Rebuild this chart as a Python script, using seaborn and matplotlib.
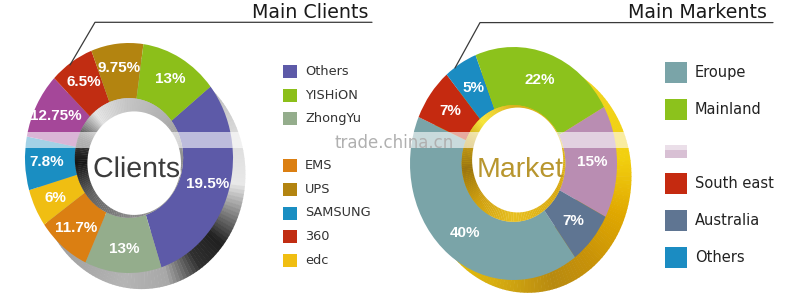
import numpy as np
import matplotlib
matplotlib.use("Agg")
import matplotlib.pyplot as plt
import seaborn as sns
from matplotlib.patches import Wedge, Ellipse, Rectangle
import matplotlib.patheffects as pe
from matplotlib.colors import to_rgb

sns.set_theme(style="white")
plt.rcParams['font.family'] = ['DejaVu Sans']

# ---------------- data ----------------
# Main Clients: slices listed clockwise, starting with "Others"
client_categories = ["Others", "ZhongYu", "EMS", "edc", "SAMSUNG", "(hidden)", "360", "UPS", "YISHiON"]
client_shares = [30.6, 11.9, 8.3, 5.3, 7.5, 9.2, 6.9, 8.1, 12.1]          # drawn slice sizes
client_labels = ["19.5%", "13%", "11.7%", "6%", "7.8%", "12.75%", "6.5%", "9.75%", "13%"]
client_colors = ["#5d5aa8", "#94ad8c", "#db7f12", "#f0be12", "#1a8ec2",
                 "#a54799", "#c12d12", "#b38410", "#8cbf1a"]
client_legend = ["Others", "YISHiON", "ZhongYu", None, "EMS", "UPS", "SAMSUNG", "360", "edc"]

# Main Markents: slices listed clockwise, starting with "Eroupe"
market_categories = ["Eroupe", "South east", "Others", "Mainland", "(hidden)", "Australia"]
market_values = [40, 7, 5, 22, 15, 7]
market_labels = ["40%", "7%", "5%", "22%", "15%", "7%"]
market_colors = ["#7aa4a8", "#c52a10", "#1b8cc2", "#8cc21c", "#b98db2", "#5f7592"]
market_legend = ["Eroupe", "Mainland", "(hidden)", "South east", "Australia", "Others"]

W, H = 789, 301
fig = plt.figure(figsize=(W / 100, H / 100), dpi=100)


def ring_gradient(ax, center, r_out, r_in, knots, colors, n=180, z=1):
    rgb = np.array([to_rgb(c) for c in colors])
    for i in range(n):
        a, b = i * 360 / n, (i + 1) * 360 / n
        m = (a + b) / 2
        c = [np.interp(m, knots, rgb[:, k]) for k in range(3)]
        ax.add_patch(Wedge(center, r_out, 90 - b - 0.3, 90 - a, width=r_out - r_in,
                           facecolor=c, edgecolor='none', lw=0, zorder=z))


def make_axes(cx, cy, rx, ry):
    yb = H - cy
    return fig.add_axes([(cx - 1.3 * rx) / W, (yb - 1.3 * ry) / H, 2.6 * rx / W, 2.6 * ry / H])


label_font = dict(color='white', fontsize=11, fontweight='bold', family='Liberation Sans')

# ---------------- left donut ----------------
axL = make_axes(129, 158, 104, 115)
ring_gradient(axL, (0.12, -0.14), 1.0, 0.5,
              [0, 40, 70, 95, 112, 128, 145, 165, 190, 230, 300, 360],
              ["#c0c0c0", "#b8b8b8", "#dcdcdc", "#e8e8e8", "#808080", "#202020",
               "#303030", "#a8a8a8", "#b4b4b4", "#a0a0a0", "#b0b0b0", "#c0c0c0"], z=1)
wL, tL = axL.pie(client_shares, colors=client_colors, startangle=38.4, counterclock=False,
                 radius=1.0, labels=client_labels, labeldistance=0.79,
                 wedgeprops=dict(width=0.48, linewidth=0, zorder=3),
                 textprops=label_font)
for t in tL:
    t.set_ha('center'); t.set_va('center'); t.set_zorder(6)
ring_gradient(axL, (0, 0), 0.521, 0.0,
              [0, 45, 90, 180, 230, 265, 290, 320, 345, 360],
              ["#c4c4c4", "#b0b0b0", "#909090", "#8a8a8a", "#606060", "#151515",
               "#404040", "#e6e6e6", "#d0d0d0", "#c4c4c4"], z=4)
axL.add_patch(Ellipse((0.05, -0.045), 0.9, 0.9, facecolor='white', edgecolor='none', zorder=5))
axL.set_xlim(-1.3, 1.3); axL.set_ylim(-1.3, 1.3); axL.set_aspect('auto'); axL.axis('off')

# ---------------- right donut ----------------
axR = make_axes(513.5, 163.5, 103.5, 116.5)
ring_gradient(axR, (0.14, -0.11), 1.0, 0.5,
              [0, 40, 80, 110, 140, 165, 200, 240, 300, 360],
              ["#e8c800", "#f0d41e", "#f2d010", "#e0a800", "#c89208", "#b88a10",
               "#d8ae10", "#e8c400", "#e8c800", "#e8c800"], z=1)
wR, tR = axR.pie(market_values, colors=market_colors, startangle=-53.5, counterclock=False,
                 radius=1.0, labels=market_labels, labeldistance=0.76,
                 wedgeprops=dict(width=0.5, linewidth=0, zorder=3),
                 textprops=label_font)
for t in tR:
    t.set_ha('center'); t.set_va('center'); t.set_zorder(6)
ring_gradient(axR, (0, 0), 0.501, 0.0,
              [0, 60, 120, 180, 225, 265, 295, 320, 345, 360],
              ["#d8b020", "#e0b818", "#d8a810", "#e8c020", "#d0a010", "#9a7410",
               "#c8a018", "#f8e840", "#e8c830", "#d8b020"], z=4)
axR.add_patch(Ellipse((0.04, 0.03), 0.88, 0.9, facecolor='white', edgecolor='none', zorder=5))
axR.set_xlim(-1.3, 1.3); axR.set_ylim(-1.3, 1.3); axR.set_aspect('auto'); axR.axis('off')

# ---------------- overlay (titles, legends, watermark) ----------------
ov = fig.add_axes([0, 0, 1, 1])
ov.set_xlim(0, W); ov.set_ylim(H, 0); ov.axis('off'); ov.set_facecolor('none')

ov.text(252, 18.3, "Main Clients", ha='left', va='baseline', fontsize=13.7, color='#1a1a1a')
ov.plot([70, 95, 372], [65, 22.3, 22.3], color='#3a3a3a', lw=0.9)
ov.text(628, 17.8, "Main Markents", ha='left', va='baseline', fontsize=13.7, color='#1a1a1a')
ov.plot([455, 480, 773], [68, 22.6, 22.6], color='#3a3a3a', lw=0.9)

ov.text(136.5, 177, "Clients", ha='center', va='baseline', fontsize=20.5,
        family='Liberation Sans', color='#3c3c3c',
        path_effects=[pe.withStroke(linewidth=2.5, foreground='white')], zorder=5)
ov.text(520.5, 177, "Market", ha='center', va='baseline', fontsize=20.5,
        family='Liberation Sans', color='#b8962e', zorder=5)

cmapL = dict(zip(client_categories, client_colors))
for i, name in enumerate(client_legend):
    if name is None:
        continue
    yc = 71.7 + i * 23.55
    ov.add_patch(Rectangle((283, yc - 6.5), 14, 13, facecolor=cmapL[name], edgecolor='none'))
    ov.text(305, yc, name, ha='left', va='center', fontsize=9.3, color='#333333')

cmapR = dict(zip(market_categories, market_colors))
for i, name in enumerate(market_legend):
    yc = 72.5 + i * 37
    if name == "(hidden)":
        ov.add_patch(Rectangle((665, 145), 22, 13, facecolor=cmapR[name], edgecolor='none', alpha=0.55))
        continue
    ov.add_patch(Rectangle((665, yc - 10.5), 22, 21, facecolor=cmapR[name], edgecolor='none'))
    ov.text(695, yc, name, ha='left', va='center', fontsize=10.5, color='#222222')

# watermark band
ov.add_patch(Rectangle((20, 132), 620, 16, facecolor='white', edgecolor='none', alpha=0.6, zorder=8))
ov.add_patch(Rectangle((640, 140), 90, 10, facecolor='white', edgecolor='none', alpha=0.5, zorder=8))
ov.text(394, 143, "trade.china.cn", ha='center', va='center', fontsize=12, color='#b0b0b0', zorder=9)

fig.savefig("out.png", dpi=100, facecolor='white')
